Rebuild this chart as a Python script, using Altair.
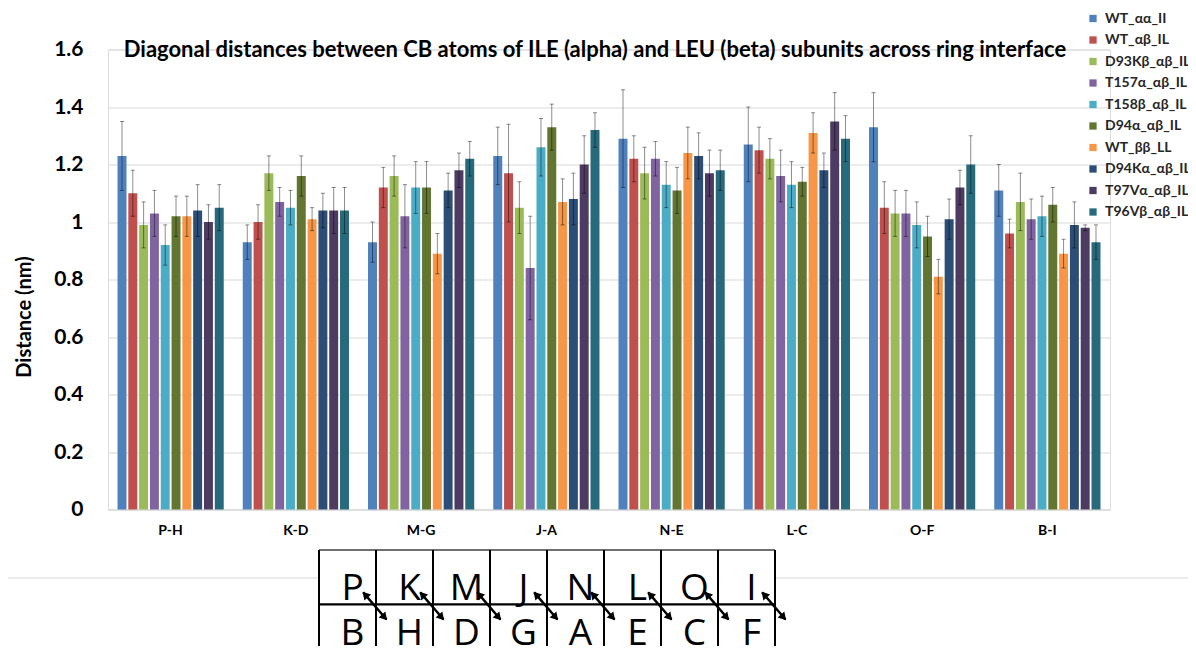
import altair as alt
import pandas as pd

# ---------------- data ----------------
groups = ["P-H", "K-D", "M-G", "J-A", "N-E", "L-C", "O-F", "B-I"]
series = ["WT_αα_II", "WT_αβ_IL", "D93Kβ_αβ_IL", "T157α_αβ_IL", "T158β_αβ_IL",
          "D94α_αβ_IL", "WT_ββ_LL", "D94Kα_αβ_IL", "T97Vα_αβ_IL", "T96Vβ_αβ_IL"]
colors = ["#4F81BD", "#C0504D", "#9BBB59", "#8064A2", "#4BACC6",
          "#627631", "#F79646", "#2C4D75", "#4D3B62", "#276A7C"]

wt_aa_ii      = [1.23, 0.93, 0.93, 1.23, 1.29, 1.27, 1.33, 1.11]
wt_ab_il      = [1.10, 1.00, 1.12, 1.17, 1.22, 1.25, 1.05, 0.96]
d93kb_ab_il   = [0.99, 1.17, 1.16, 1.05, 1.17, 1.22, 1.03, 1.07]
t157a_ab_il   = [1.03, 1.07, 1.02, 0.84, 1.22, 1.16, 1.03, 1.01]
t158b_ab_il   = [0.92, 1.05, 1.12, 1.26, 1.13, 1.13, 0.99, 1.02]
d94a_ab_il    = [1.02, 1.16, 1.12, 1.33, 1.11, 1.14, 0.95, 1.06]
wt_bb_ll      = [1.02, 1.01, 0.89, 1.07, 1.24, 1.31, 0.81, 0.89]
d94ka_ab_il   = [1.04, 1.04, 1.11, 1.08, 1.23, 1.18, 1.01, 0.99]
t97va_ab_il   = [1.00, 1.04, 1.18, 1.20, 1.17, 1.35, 1.12, 0.98]
t96vb_ab_il   = [1.05, 1.04, 1.22, 1.32, 1.18, 1.29, 1.20, 0.93]

err_wt_aa_ii    = [0.12, 0.06, 0.07, 0.10, 0.17, 0.13, 0.12, 0.09]
err_wt_ab_il    = [0.08, 0.06, 0.07, 0.17, 0.08, 0.08, 0.09, 0.05]
err_d93kb_ab_il = [0.08, 0.06, 0.07, 0.09, 0.09, 0.07, 0.08, 0.10]
err_t157a_ab_il = [0.08, 0.05, 0.11, 0.18, 0.06, 0.09, 0.08, 0.07]
err_t158b_ab_il = [0.07, 0.06, 0.09, 0.10, 0.08, 0.08, 0.08, 0.07]
err_d94a_ab_il  = [0.07, 0.07, 0.09, 0.08, 0.08, 0.05, 0.07, 0.06]
err_wt_bb_ll    = [0.07, 0.04, 0.07, 0.08, 0.09, 0.07, 0.06, 0.05]
err_d94ka_ab_il = [0.09, 0.06, 0.06, 0.09, 0.08, 0.06, 0.07, 0.08]
err_t97va_ab_il = [0.06, 0.08, 0.06, 0.10, 0.08, 0.10, 0.06, 0.01]
err_t96vb_ab_il = [0.08, 0.08, 0.06, 0.06, 0.07, 0.08, 0.10, 0.06]

y_ticks = [0, 0.2, 0.4, 0.6, 0.8, 1, 1.2, 1.4, 1.6]

title_text = ("Diagonal distances between CB atoms of ILE (alpha) and LEU (beta) "
              "subunits across ring interface")

# diagram below the chart
top_letters = ["P", "K", "M", "J", "N", "L", "O", "I"]
bottom_letters = ["B", "H", "D", "G", "A", "E", "C", "F"]

# ---------------- build tables ----------------
all_vals = [wt_aa_ii, wt_ab_il, d93kb_ab_il, t157a_ab_il, t158b_ab_il,
            d94a_ab_il, wt_bb_ll, d94ka_ab_il, t97va_ab_il, t96vb_ab_il]
all_errs = [err_wt_aa_ii, err_wt_ab_il, err_d93kb_ab_il, err_t157a_ab_il,
            err_t158b_ab_il, err_d94a_ab_il, err_wt_bb_ll, err_d94ka_ab_il,
            err_t97va_ab_il, err_t96vb_ab_il]
rows = []
for s, vals, errs in zip(series, all_vals, all_errs):
    for g, v, e in zip(groups, vals, errs):
        rows.append({"Group": g, "Series": s, "Value": v,
                     "Lo": v - e, "Hi": v + e})
df = pd.DataFrame(rows)

FONT = "Lato"

x_enc = alt.X("Group:N", sort=groups, title=None,
              scale=alt.Scale(paddingInner=0.152, paddingOuter=0.076),
              axis=alt.Axis(labelFont=FONT, labelFontSize=14, labelFontWeight="bold",
                            labelColor="#000000", labelAngle=0, labelPadding=14,
                            ticks=False, tickSize=0, domainColor="#D9D9D9",
                            domainWidth=1, grid=False))
xo_enc = alt.XOffset("Series:N", sort=series,
                     scale=alt.Scale(paddingInner=0.17, paddingOuter=0))
y_scale = alt.Scale(domain=[0, 1.6], nice=False)

bars = alt.Chart(df).mark_bar().encode(
    x=x_enc,
    xOffset=xo_enc,
    y=alt.Y("Value:Q", scale=y_scale, title="Distance (nm)",
            axis=alt.Axis(values=y_ticks, format="~g", labelFont=FONT, labelFontSize=21,
                          labelFontWeight="bold", labelColor="#000000",
                          labelPadding=25, ticks=False, domain=False,
                          gridColor="#D9D9D9", gridWidth=1,
                          titleFont=FONT, titleFontSize=20, titleFontWeight="bold",
                          titleColor="#000000", titlePadding=19, titleY=267)),
    color=alt.Color("Series:N", sort=series,
                    scale=alt.Scale(domain=series, range=colors),
                    legend=alt.Legend(title=None, orient="none", legendX=978,
                                      legendY=-38, symbolType="square",
                                      symbolSize=53, symbolStrokeWidth=0,
                                      labelFont=FONT, labelFontSize=14,
                                      labelFontWeight="bold", labelColor="#262626",
                                      rowPadding=7.5, labelOffset=5, padding=0)),
)

err_rule = alt.Chart(df).mark_rule(color="#000000", opacity=0.45, strokeWidth=1).encode(
    x=alt.X("Group:N", sort=groups),
    xOffset=alt.XOffset("Series:N", sort=series),
    y=alt.Y("Lo:Q", scale=y_scale),
    y2="Hi:Q",
)
cap_lo = alt.Chart(df).mark_tick(color="#000000", opacity=0.45, size=4, thickness=1).encode(
    x=alt.X("Group:N", sort=groups),
    xOffset=alt.XOffset("Series:N", sort=series),
    y=alt.Y("Lo:Q", scale=y_scale),
)
cap_hi = alt.Chart(df).mark_tick(color="#000000", opacity=0.45, size=4, thickness=1).encode(
    x=alt.X("Group:N", sort=groups),
    xOffset=alt.XOffset("Series:N", sort=series),
    y=alt.Y("Hi:Q", scale=y_scale),
)

title_layer = alt.Chart(pd.DataFrame({"t": [title_text]})).mark_text(
    font=FONT, fontSize=22, fontWeight="bold", color="#000000",
    align="center", baseline="alphabetic").encode(
    x=alt.value(487), y=alt.value(7.5), text="t:N")

main = alt.layer(bars, err_rule, cap_lo, cap_hi, title_layer)

# ---------------- diagram ----------------
n = len(top_letters)
dx_scale = alt.Scale(domain=[0, n], range=[211, 667], nice=False, zero=False)
dy_scale = alt.Scale(domain=[0, 2], range=[500.5, 609.1], nice=False, zero=False)

divider = pd.DataFrame([{"x": -5.6, "x2": 15.4, "y": 0.516, "y2": 0.516}])
box = pd.DataFrame([{"x": 0, "x2": n, "y": 0, "y2": 2}])
hlines = pd.DataFrame([{"x": 0, "x2": n, "y": r, "y2": r} for r in (0, 1)])
vlines = pd.DataFrame([{"x": i, "x2": i, "y": 0, "y2": 2} for i in range(n + 1)])
top_df = pd.DataFrame([{"x": i + 0.5, "y": 0.5, "t": t} for i, t in enumerate(top_letters)])
bot_df = pd.DataFrame([{"x": i + 0.5, "y": 1.5, "t": t} for i, t in enumerate(bottom_letters)])
arrows = pd.DataFrame([{"x": b - 0.02 - 0.205, "x2": b - 0.02 + 0.205,
                        "y": 1.03 - 0.25, "y2": 1.03 + 0.25}
                       for b in range(1, n + 1)])
heads = pd.DataFrame(
    [{"x": b - 0.02 - 0.17, "y": 1.03 - 0.21, "a": 318.5} for b in range(1, n + 1)]
    + [{"x": b - 0.02 + 0.17, "y": 1.03 + 0.21, "a": 138.5} for b in range(1, n + 1)])


def dxe(f="x"):
    return alt.X(f + ":Q", scale=dx_scale, axis=None)


def dye(f="y"):
    return alt.Y(f + ":Q", scale=dy_scale, axis=None)


div_layer = alt.Chart(divider).mark_rule(color="#D9D9D9", strokeWidth=1).encode(
    x=dxe(), x2="x2:Q", y=dye(), y2="y2:Q")
box_layer = alt.Chart(box).mark_rect(color="#FFFFFF").encode(
    x=dxe(), x2="x2:Q", y=dye(), y2="y2:Q")
top_line = alt.Chart(hlines.iloc[[0]]).mark_rule(color="#404040", strokeWidth=1.3).encode(
    x=dxe(), x2="x2:Q", y=dye(), y2="y2:Q")
mid_line = alt.Chart(hlines.iloc[[1]]).mark_rule(color="#000000", strokeWidth=2.3).encode(
    x=dxe(), x2="x2:Q", y=dye(), y2="y2:Q")
v_layer = alt.Chart(vlines).mark_rule(color="#000000", strokeWidth=2).encode(
    x=dxe(), x2="x2:Q", y=dye(), y2="y2:Q")
top_text = alt.Chart(top_df).mark_text(
    font="Open Sans", fontSize=37, color="#000000", baseline="alphabetic",
    align="center", dx=5, dy=23).encode(x=dxe(), y=dye(), text="t:N")
bot_text = alt.Chart(bot_df).mark_text(
    font="Open Sans", fontSize=37, color="#000000", baseline="alphabetic",
    align="center", dx=5, dy=14).encode(x=dxe(), y=dye(), text="t:N")
arrow_layer = alt.Chart(arrows).mark_rule(color="#000000", strokeWidth=2.4).encode(
    x=dxe(), x2="x2:Q", y=dye(), y2="y2:Q")
head_layer = alt.Chart(heads).mark_point(
    shape="triangle-up", filled=True, color="#000000", size=80, opacity=1).encode(
    x=dxe(), y=dye(), angle=alt.Angle("a:Q", scale=None))

diagram = alt.layer(div_layer, box_layer, top_line, v_layer, mid_line,
                    top_text, bot_text, arrow_layer, head_layer)

chart = alt.layer(main, diagram).resolve_scale(
    x="independent", y="independent"
).properties(
    width=1002, height=460,
    autosize=alt.AutoSizeParams(type="none"),
    padding={"left": 100, "top": 41.5, "right": 78, "bottom": 136.5},
).configure_view(stroke=None).configure(background="#FFFFFF")

chart.save("out.html", embed_options={"renderer": "svg", "actions": False})
